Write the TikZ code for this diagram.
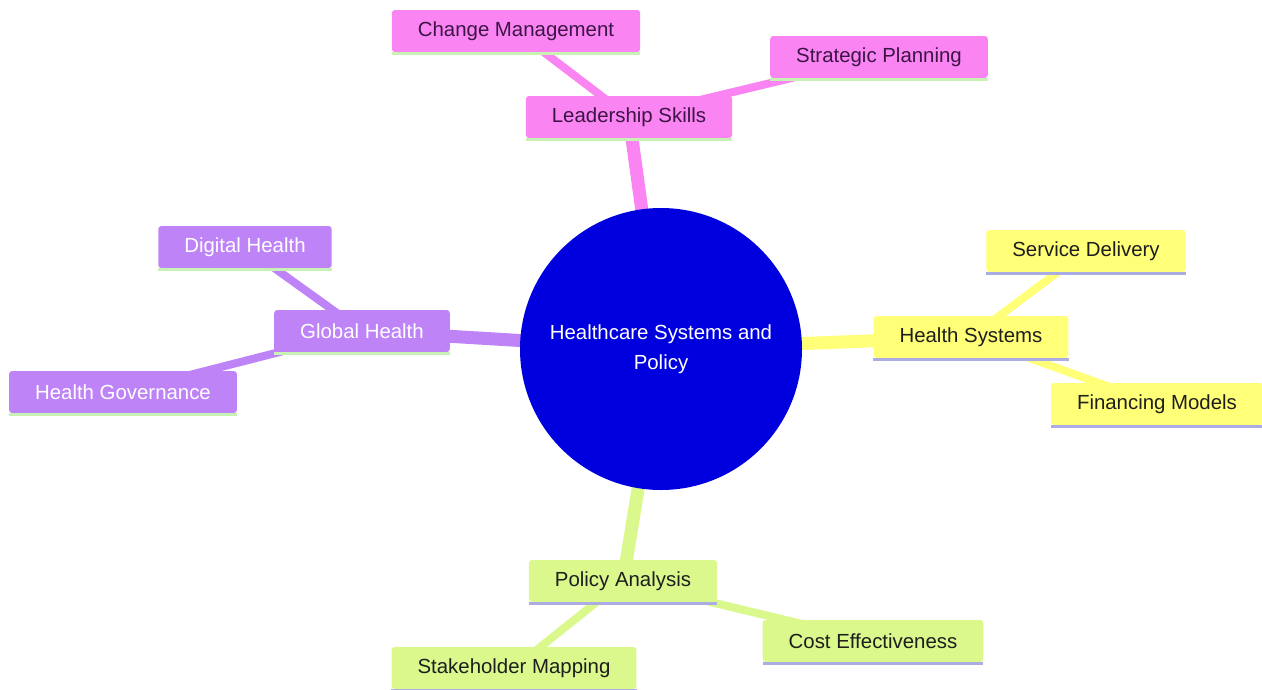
\documentclass[tikz,border=0pt]{standalone}
\usepackage{fontspec}
\setmainfont{Liberation Sans}
\usetikzlibrary{backgrounds}
\definecolor{pinkc}{RGB}{249,132,242}
\definecolor{purpc}{RGB}{190,132,247}
\definecolor{yelc}{RGB}{255,255,120}
\definecolor{grnc}{RGB}{218,248,140}
\definecolor{bluec}{RGB}{0,0,222}
\definecolor{ulgreen}{RGB}{200,242,180}
\definecolor{ullav}{RGB}{172,172,228}
\definecolor{pinktext}{RGB}{60,20,70}
\definecolor{darktext}{RGB}{30,30,30}
\begin{document}
\begin{tikzpicture}[x=1pt,y=-1pt,
  box/.style={rectangle, rounded corners=3pt, inner xsep=26pt, inner ysep=0pt,
    minimum height=42pt, font=\fontsize{20.4}{24}\selectfont},
  pinkbox/.style={box, fill=pinkc, text=pinktext},
  purpbox/.style={box, fill=purpc, text=white},
  yelbox/.style={box, fill=yelc, text=darktext},
  grnbox/.style={box, fill=grnc, text=darktext},
  lvone/.style={line width=13pt},
  lvtwo/.style={line width=8pt},
  uline/.style={line width=3pt}]
\useasboundingbox (0,0) rectangle (1262,689);

\node[circle, fill=bluec, minimum size=282pt, inner sep=0pt, text=white, align=center,
  font=\fontsize{20.4}{30}\selectfont] (root) at (661,349) {Healthcare Systems and\\Policy};

\node[pinkbox] (ls) at (629,117) {Leadership Skills};
\node[pinkbox] (cm) at (516,31) {Change Management};
\node[pinkbox] (sp) at (879,57) {Strategic Planning};

\node[purpbox] (gh) at (362,331) {Global Health};
\node[purpbox] (dh) at (245,247) {Digital Health};
\node[purpbox] (hg) at (123,392) {Health Governance};

\node[yelbox] (hs) at (971,337) {Health Systems};
\node[yelbox] (sd) at (1086,251) {Service Delivery};
\node[yelbox] (fm) at (1157,404) {Financing Models};

\node[grnbox] (pa) at (623,581) {Policy Analysis};
\node[grnbox] (ce) at (873,641) {Cost Effectiveness};
\node[grnbox] (sm) at (514,668) {Stakeholder Mapping};

\begin{pgfonlayer}{background}
\draw[pinkc, lvone] (root.center) -- (ls.center);
\draw[pinkc, lvtwo] (ls.center) -- (cm.center);
\draw[pinkc, lvtwo] (ls.center) -- (sp.center);
\draw[purpc, lvone] (root.center) -- (gh.center);
\draw[purpc, lvtwo] (gh.center) -- (dh.center);
\draw[purpc, lvtwo] (gh.center) -- (hg.center);
\draw[yelc, lvone] (root.center) -- (hs.center);
\draw[yelc, lvtwo] (hs.center) -- (sd.center);
\draw[yelc, lvtwo] (hs.center) -- (fm.center);
\draw[grnc, lvone] (root.center) -- (pa.center);
\draw[grnc, lvtwo] (pa.center) -- (ce.center);
\draw[grnc, lvtwo] (pa.center) -- (sm.center);
\end{pgfonlayer}

\foreach \n in {ls,cm,sp,gh,dh,hg}
  \draw[ulgreen, uline] ([yshift=-1pt]\n.south west) -- ([yshift=-1pt]\n.south east);
\foreach \n in {hs,sd,fm,pa,ce,sm}
  \draw[ullav, uline] ([yshift=-1pt]\n.south west) -- ([yshift=-1pt]\n.south east);
\end{tikzpicture}
\end{document}
